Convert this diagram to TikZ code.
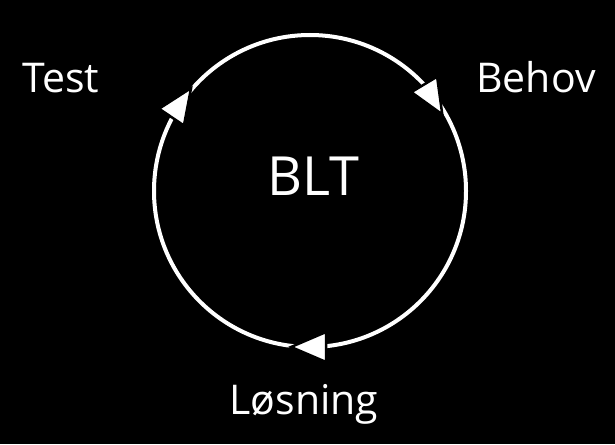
\documentclass[tikz,border=0pt]{standalone}
\usepackage{fontspec}
\setmainfont{Open Sans}
\usetikzlibrary{positioning}

\tikzset{
  lbl/.style={text=white, anchor=base, font=\fontsize{41}{50}\selectfont},
  pics/turn/.style={code={
    \filldraw[fill=white, draw=black, line width=2.5pt, x=1pt, y=1pt]
      (18,0) -- (-17,15) -- (-17,-15) -- cycle;
  }}
}

\begin{document}
\begin{tikzpicture}[x=1pt, y=-1pt]
    % background and frame
    \fill[black] (0,0) rectangle (615,444);
    \useasboundingbox (0,0) rectangle (615,444);
    % the cycle
    \draw[white, line width=4pt] (310,191) circle[radius=156pt];
    \pic[rotate=-59] at (433,99) {turn};
    \pic[rotate=180] at (309,347) {turn};
    \pic[rotate=56] at (181,103) {turn};
    % labels
    \node[lbl, font=\fontsize{54}{64}\selectfont] (blt) at (313,195) {BLT};
    \node[lbl] (test) at (61,92) {Test};
    \node[lbl] (behov) at (536,92) {Behov};
    \node[lbl] (losning) at (304,414) {Løsning};
\end{tikzpicture}
\end{document}
